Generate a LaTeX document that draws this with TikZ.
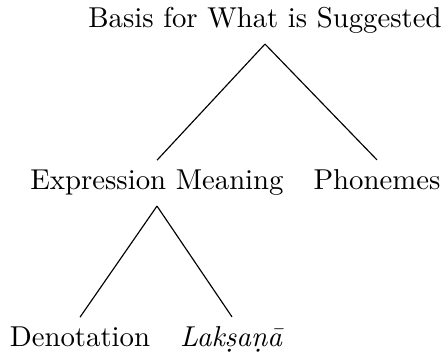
\documentclass[tikz,border=0pt]{standalone}
\begin{document}
\begin{tikzpicture}[x=0.3478pt, y=-0.3478pt]
      \tikzset{word/.style={anchor=base, inner sep=3.33pt}}
      \tikzset{branch/.style={draw, line width=0.4pt}}
      \useasboundingbox (0,0) rectangle (446,356);
      \node[word] (basis) at (265,28) {Basis for What is Suggested};
      \node[word] (expr) at (157,190) {Expression Meaning};
      \node[word] (phon) at (377,190) {Phonemes};
      \node[word] (deno) at (80,347) {Denotation};
      \node[word] (laks) at (232,347) {\textit{Lak\d{s}a\d{n}\=a}};
      \draw[branch] (basis.south) -- (expr.north);
      \draw[branch] (basis.south) -- (phon.north);
      \draw[branch] (expr.south) -- (deno.north);
      \draw[branch] (expr.south) -- (laks.north);
    \end{tikzpicture}
\end{document}
